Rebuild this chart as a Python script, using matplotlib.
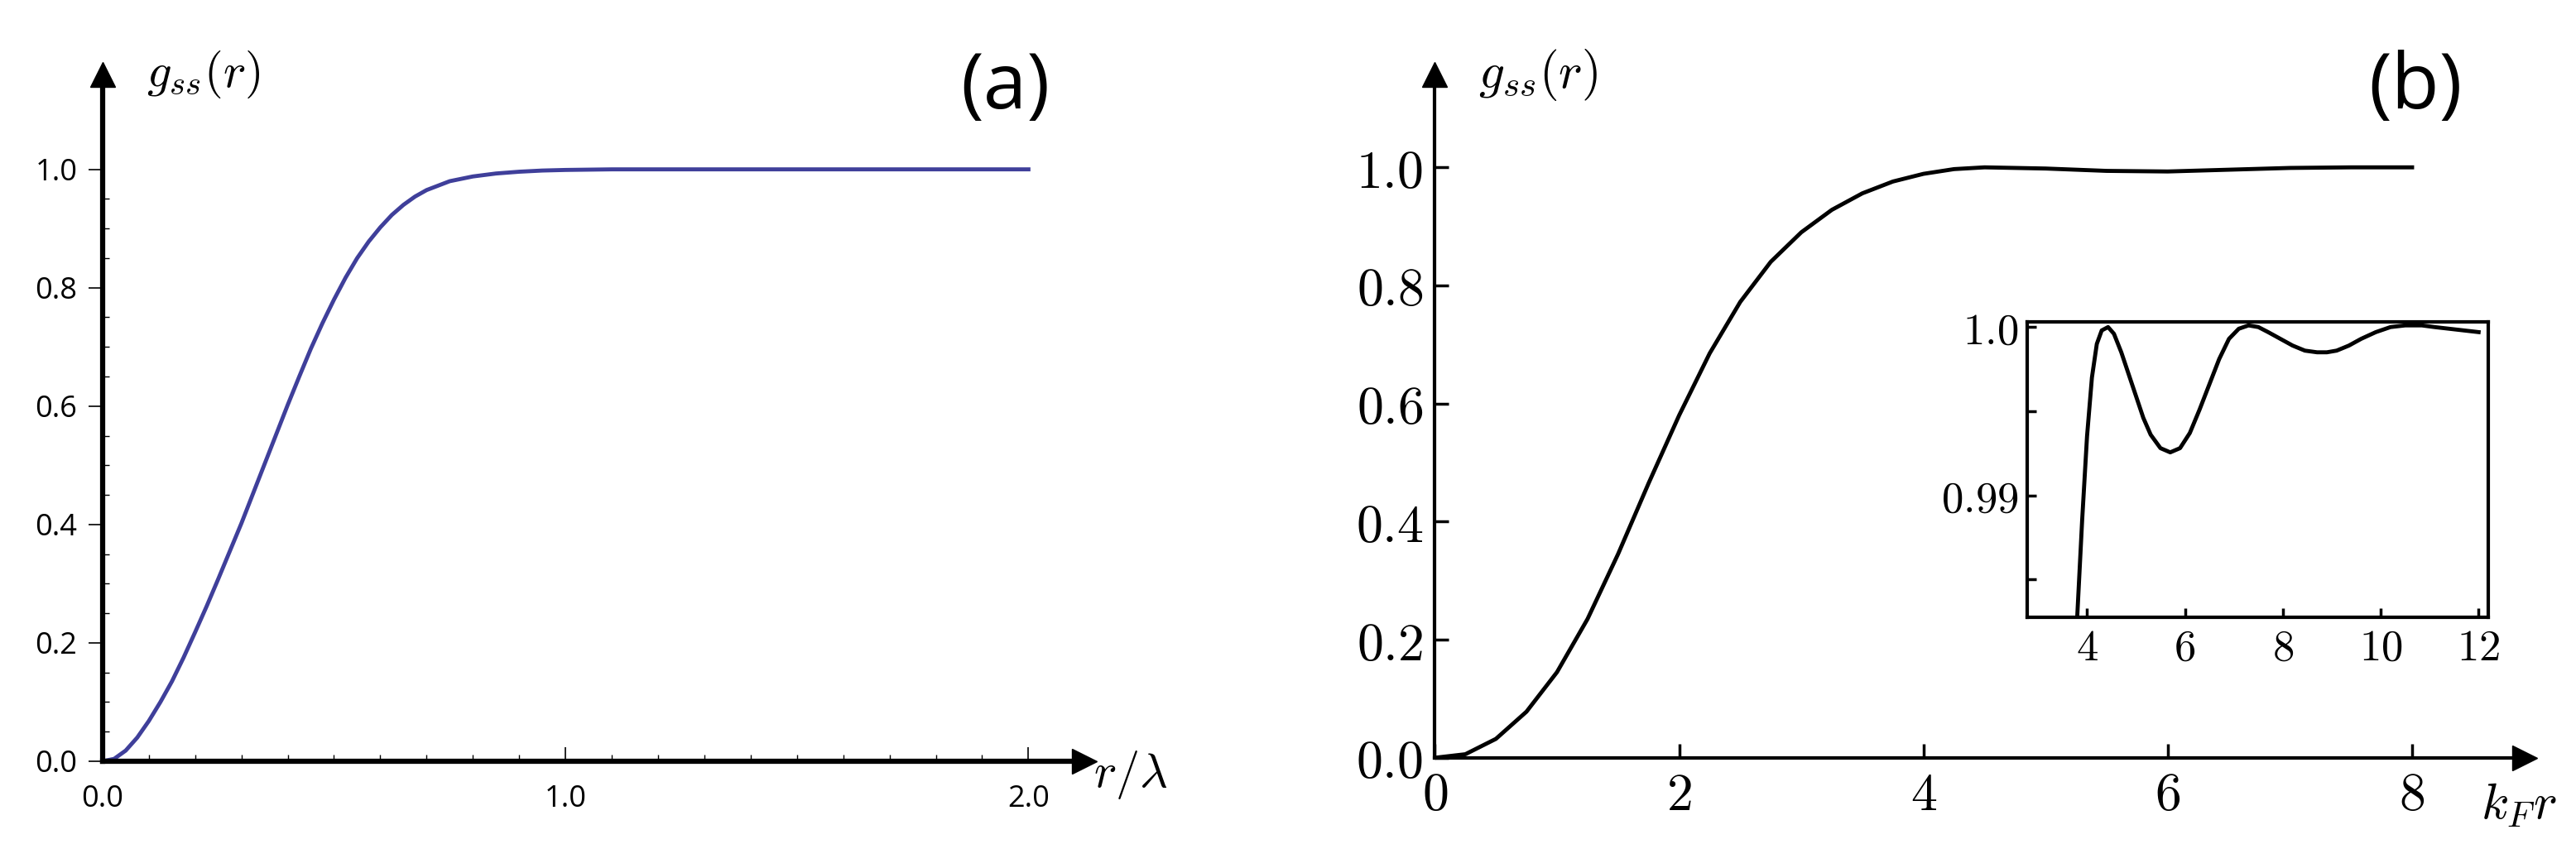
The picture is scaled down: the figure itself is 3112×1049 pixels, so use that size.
import numpy as np
import matplotlib
matplotlib.use("Agg")
import matplotlib.pyplot as plt

plt.rcParams['mathtext.fontset'] = 'cm'

# panel (a): g_ss(r) vs r/lambda
ra = [0, 0.025, 0.05, 0.075, 0.1, 0.125, 0.15, 0.175, 0.2, 0.225, 0.25, 0.275, 0.3,
      0.325, 0.35, 0.375, 0.4, 0.425, 0.45, 0.475, 0.5, 0.525, 0.55, 0.575, 0.6,
      0.625, 0.65, 0.675, 0.7, 0.75, 0.8, 0.85, 0.9, 0.95, 1.0, 1.1, 1.2, 1.6, 2.0]
ga = [0, 0.004, 0.018, 0.04, 0.068, 0.1, 0.135, 0.175, 0.218, 0.262, 0.308, 0.355,
      0.402, 0.452, 0.502, 0.552, 0.602, 0.65, 0.697, 0.74, 0.78, 0.817, 0.85, 0.878,
      0.902, 0.923, 0.94, 0.954, 0.965, 0.98, 0.988, 0.993, 0.996, 0.998, 0.999,
      1.0, 1.0, 1.0, 1.0]

# panel (b): g_ss(r) vs k_F r
rb = [0, 0.25, 0.5, 0.75, 1.0, 1.25, 1.5, 1.75, 2.0, 2.25, 2.5, 2.75, 3.0, 3.25, 3.5,
      3.75, 4.0, 4.25, 4.5, 5.0, 5.5, 6.0, 6.5, 7.0, 7.5, 8.0]
gb = [0, 0.006, 0.032, 0.078, 0.145, 0.235, 0.345, 0.465, 0.58, 0.685, 0.772, 0.84,
      0.89, 0.928, 0.956, 0.976, 0.989, 0.997, 1.0, 0.998, 0.994, 0.993, 0.996, 0.999,
      1.0, 1.0]

# inset of (b)
ri = [3.8, 3.9, 4.0, 4.1, 4.2, 4.3, 4.43, 4.55, 4.7, 4.85, 5.0, 5.15, 5.3, 5.5, 5.7,
      5.9, 6.1, 6.3, 6.5, 6.7, 6.9, 7.1, 7.3, 7.5, 7.7, 7.95, 8.2, 8.45, 8.7, 8.9,
      9.1, 9.35, 9.6, 9.9, 10.2, 10.5, 10.84, 11.1, 11.4, 11.7, 12.0]
gi = [0.9828, 0.9885, 0.9935, 0.997, 0.999, 0.9998, 1.0, 0.9996, 0.9985, 0.9972,
      0.9959, 0.9946, 0.9936, 0.9928, 0.99255, 0.9928, 0.9937, 0.9951, 0.9966, 0.9981,
      0.9993, 0.9999, 1.0001, 1.0, 0.9997, 0.9993, 0.9989, 0.9986, 0.9985, 0.9985,
      0.9986, 0.9989, 0.9993, 0.9997, 1.0, 1.0001, 1.0001, 1.0, 0.9999, 0.9998, 0.9997]

fig = plt.figure(figsize=(31.12, 10.49), dpi=100)

# ---- (a)
axa = fig.add_axes([0.0398, 0.123, 0.381, 0.791])
axa.plot(ra, ga, color='#3f3f9a', lw=3.5)
axa.set_xlim(0, 2.12)
axa.set_ylim(0, 1.16)
for s in ['top', 'right']:
    axa.spines[s].set_visible(False)
for s in ['left', 'bottom']:
    axa.spines[s].set_linewidth(4.5)
axa.set_xticks([0, 1, 2])
axa.set_xticklabels(['0.0', '1.0', '2.0'], family='Open Sans', fontsize=26)
axa.set_xticks(np.arange(0, 2.01, 0.1), minor=True)
axa.set_yticks([0, 0.2, 0.4, 0.6, 0.8, 1.0])
axa.set_yticklabels(['0.0', '0.2', '0.4', '0.6', '0.8', '1.0'], family='Open Sans', fontsize=26)
axa.set_yticks(np.arange(0, 1.01, 0.05), minor=True)
axa.tick_params(which='major', direction='in', length=12, width=1.2, pad=20)
axa.tick_params(which='minor', direction='in', length=6, width=1)
axa.tick_params(axis='y', which='major', direction='out', length=12, pad=10)
axa.plot(1, 0, '>k', ms=22, transform=axa.transAxes, clip_on=False)
axa.plot(0, 1, '^k', ms=22, transform=axa.transAxes, clip_on=False)
axa.text(0.045, 1.0, r'$g_{ss}(r)$', transform=axa.transAxes, fontsize=42, va='center')
axa.text(1.01, -0.02, r'$r/\lambda$', transform=axa.transAxes, fontsize=42, va='center')
axa.text(0.92, 0.98, '(a)', transform=axa.transAxes, fontsize=68, family='Open Sans',
         ha='center', va='center')

# ---- (b)
axb = fig.add_axes([0.557, 0.127, 0.423, 0.787])
axb.plot(rb, gb, color='black', lw=3.5)
axb.set_xlim(0, 8.92)
axb.set_ylim(0, 1.157)
for s in ['top', 'right']:
    axb.spines[s].set_visible(False)
for s in ['left', 'bottom']:
    axb.spines[s].set_linewidth(3)
axb.set_xticks([0, 2, 4, 6, 8])
axb.set_xticklabels(['$0$', '$2$', '$4$', '$6$', '$8$'], fontsize=46)
axb.set_yticks([0, 0.2, 0.4, 0.6, 0.8, 1.0])
axb.set_yticklabels(['$0.0$', '$0.2$', '$0.4$', '$0.6$', '$0.8$', '$1.0$'], fontsize=46)
axb.tick_params(direction='in', length=12, width=2.5, pad=10)
axb.plot(1, 0, '>k', ms=22, transform=axb.transAxes, clip_on=False)
axb.plot(0, 1, '^k', ms=22, transform=axb.transAxes, clip_on=False)
axb.text(0.04, 1.0, r'$g_{ss}(r)$', transform=axb.transAxes, fontsize=44, va='center')
axb.text(0.96, -0.07, r'$k_F r$', transform=axb.transAxes, fontsize=44, va='center')
axb.text(0.90, 0.98, '(b)', transform=axb.transAxes, fontsize=68, family='Open Sans',
         ha='center', va='center')

# ---- inset
axi = fig.add_axes([0.787, 0.289, 0.179, 0.34])
axi.plot(ri, gi, color='black', lw=3.5)
axi.set_xlim(2.78, 12.2)
axi.set_ylim(0.98275, 1.0003)
for s in axi.spines.values():
    s.set_linewidth(3)
axi.set_xticks([4, 6, 8, 10, 12])
axi.set_xticklabels(['$4$', '$6$', '$8$', '$10$', '$12$'], fontsize=38)
axi.set_yticks([0.985, 0.99, 0.995, 1.0])
axi.set_yticklabels(['', '$0.99$', '', '$1.0$'], fontsize=38)
axi.tick_params(direction='in', length=8, width=2.5, pad=8)

fig.savefig('out.png', dpi=100)
